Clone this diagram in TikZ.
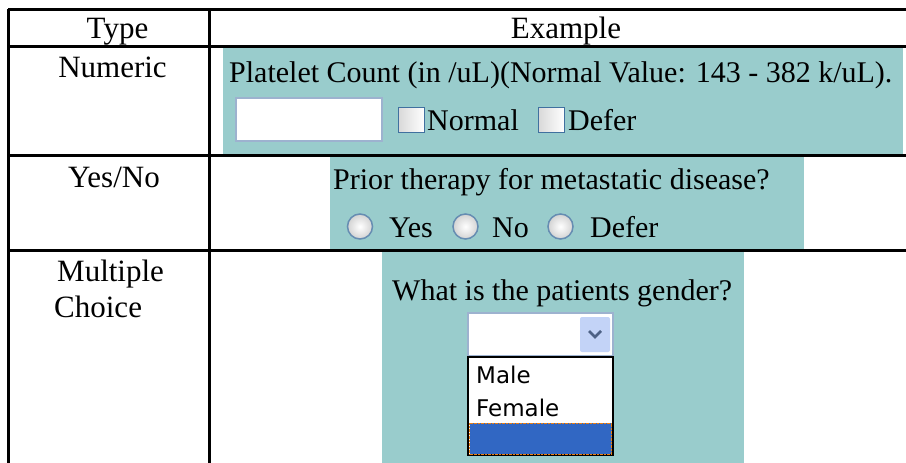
\documentclass[tikz,border=0pt]{standalone}
\usepackage{fontspec}
\setmainfont{Liberation Serif}
\newfontfamily\listfont{DejaVu Sans}
\usetikzlibrary{positioning}
\definecolor{formbg}{HTML}{99CCCC}
\definecolor{boxline}{HTML}{40709F}
\definecolor{fieldline}{HTML}{9DB2CF}
\definecolor{btnfill}{HTML}{C3D3F7}
\definecolor{chevron}{HTML}{4D6185}
\definecolor{selblue}{HTML}{3167C3}
\tikzset{cell/.style = {inner sep=0pt, anchor=base, font=\fontsize{31}{31}\selectfont},
         form/.style = {inner sep=0pt, anchor=base west, font=\fontsize{30}{30}\selectfont},
         item/.style = {inner sep=0pt, anchor=base west, font=\listfont\fontsize{23}{23}\selectfont},
         rule/.style = {line width=3pt},
         tick/.style = {draw=boxline, line width=1.5pt, left color=gray!30, right color=white},
         radio/.style = {draw=boxline!80, line width=1.5pt, inner color=white, outer color=gray!35},
         field/.style = {draw=fieldline, line width=1.5pt, fill=white}}

\begin{document}
\begin{tikzpicture}[x=1pt, y=-1pt]
            \useasboundingbox (0,0) rectangle (906,463);

            % form backgrounds
            \fill[formbg] (223,48) rectangle (903,154);
            \fill[formbg] (330,156) rectangle (804,249);
            \fill[formbg] (382,251) rectangle (744,463);

            % table rules
            \draw[rule] (8,9) -- (906,9);
            \draw[rule] (8,46.7) -- (906,46.7);
            \draw[rule] (8,155) -- (906,155);
            \draw[rule] (8,250) -- (906,250);
            \draw[rule] (8,9) -- (8,463);
            \draw[rule] (209,9) -- (209,463);

            \node[cell] (type) at (117.5,38) {Type};
            \node[cell] (example) at (566,38) {Example};
            \node[cell] (numeric) at (112.5,77) {Numeric};
            \node[cell] (yesno) at (114,187) {Yes/No};
            \node[cell, anchor=base west] (multiple) at (57,281) {Multiple};
            \node[cell, anchor=base west] (choice) at (54,317) {Choice};

            % numeric
            \node[form] (platelet) at (229,82) {Platelet Count (in /uL)(Normal Value: 143 - 382 k/uL).};
            \draw[field] (236,98) rectangle (382,141);
            \draw[tick] (398.5,107.5) rectangle (424.5,132.5);
            \node[form] (normal) at (427,130) {Normal};
            \draw[tick] (538.5,107.5) rectangle (564.5,132.5);
            \node[form] (defer) at (568,130) {Defer};

            % yes/no
            \node[form] (prior) at (333,189) {Prior therapy for metastatic disease?};
            \draw[radio] (360,226.5) circle (12.5);
            \node[form] (yes) at (389,237) {Yes};
            \draw[radio] (465.5,226.5) circle (12.5);
            \node[form] (no) at (492,237) {No};
            \draw[radio] (560.5,226.5) circle (12.5);
            \node[form] (defer2) at (590,237) {Defer};

            % multiple choice
            \node[form] (gender) at (392,300) {What is the patients gender?};
            \draw[field] (468,313) rectangle (613,356);
            \fill[btnfill, rounded corners=2pt] (580,317) rectangle (610,352);
            \draw[chevron, line width=2.5pt] (589,331) -- (595,337) -- (601,331);
            \draw[fill=white, line width=1.5pt] (468,357) rectangle (613,455);
            \draw[fill=selblue, draw=orange!70!brown, densely dotted] (469.5,423) rectangle (611.5,454);
            \node[item] (male) at (476,383) {Male};
            \node[item] (female) at (476,416) {Female};
        \end{tikzpicture}
\end{document}
